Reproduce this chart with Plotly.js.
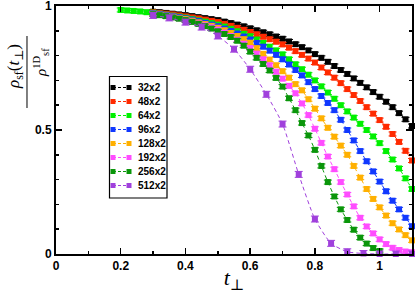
<!DOCTYPE html>
<html><head><meta charset="utf-8">
<script src="https://cdn.plot.ly/plotly-3.0.1.min.js"></script>
<style>html,body{margin:0;padding:0;background:#fff}#chart{width:415px;height:293px}</style>
</head><body><div id="chart"></div>
<script>
// t_perp grids
const tA = [0.30,0.32,0.34,0.36,0.38,0.40,0.42,0.44,0.46,0.48,0.50,0.52,0.54,0.56,0.58,0.60,0.62,0.64,0.66,0.68,0.70,0.72,0.74,0.76,0.78,0.80,0.82,0.84,0.86,0.88,0.90,0.92,0.94,0.96,0.98,1.00,1.02,1.04,1.06,1.08,1.10];
const tG = [0.20,0.22,0.24,0.26,0.28,0.30,0.32,0.34,0.36,0.38,0.40,0.42,0.44,0.46,0.48,0.50,0.52,0.54,0.56,0.58,0.60,0.62,0.64,0.66,0.68,0.70,0.72,0.74,0.76,0.78,0.80,0.82,0.84,0.86,0.88,0.90,0.92,0.94,0.96,0.98,1.00,1.02,1.04,1.06,1.08,1.10];
const tD = [0.30,0.32,0.34,0.36,0.38,0.40,0.42,0.44,0.46,0.48,0.50,0.52,0.54,0.56,0.58,0.60,0.62,0.64,0.66,0.68,0.70,0.72,0.74,0.76,0.78,0.80,0.82,0.84,0.86,0.88,0.90,0.92,0.94,0.96,0.98,1.00];
const tP = [0.30,0.35,0.40,0.45,0.50,0.55,0.60,0.65,0.70,0.75,0.80,0.85,0.90,0.95,1.00,1.05,1.10];

// rho_sf(t_perp)/rho_sf^1D
const r32 = [.977,.975,.972,.969,.966,.963,.959,.955,.951,.947,.943,.937,.931,.925,.918,.910,.902,.894,.886,.877,.868,.857,.846,.834,.821,.806,.791,.775,.758,.742,.726,.708,.690,.672,.653,.634,.614,.592,.568,.543,.516];
const r48 = [.975,.972,.969,.966,.962,.958,.954,.950,.945,.940,.935,.928,.920,.912,.904,.895,.886,.876,.866,.856,.845,.832,.818,.803,.788,.772,.752,.732,.711,.689,.665,.641,.617,.592,.566,.540,.513,.484,.452,.416,.377];
const r64 = [.984,.982,.980,.978,.975,.973,.969,.965,.961,.957,.953,.948,.942,.937,.931,.925,.917,.908,.898,.888,.878,.865,.851,.836,.821,.805,.785,.765,.745,.723,.700,.676,.651,.626,.600,.575,.550,.525,.500,.474,.447,.415,.381,.345,.305,.262];
const r96 = [.971,.968,.964,.960,.955,.950,.945,.939,.932,.925,.918,.909,.899,.889,.877,.865,.851,.836,.820,.803,.785,.764,.742,.720,.693,.665,.637,.609,.580,.541,.500,.458,.415,.374,.333,.292,.253,.215,.180,.146,.112];
const r128 = [.969,.965,.961,.957,.952,.947,.941,.934,.927,.920,.912,.902,.891,.879,.866,.852,.830,.807,.784,.761,.737,.711,.685,.660,.624,.586,.547,.509,.473,.437,.400,.355,.308,.262,.222,.188,.155,.124,.099,.076,.055];
const r192 = [.968,.964,.960,.955,.950,.944,.937,.930,.922,.914,.905,.893,.879,.864,.848,.830,.808,.785,.761,.735,.707,.678,.648,.607,.560,.505,.448,.393,.342,.290,.240,.192,.146,.111,.083,.059,.040,.025,.016,.010,.007];
const r256 = [.967,.963,.959,.954,.949,.943,.936,.928,.919,.909,.898,.887,.875,.860,.840,.816,.791,.766,.740,.710,.675,.628,.580,.528,.478,.420,.355,.290,.232,.180,.137,.098,.066,.042,.024,.012];
const r512 = [.962,.952,.935,.915,.879,.826,.745,.644,.524,.321,.141,.043,.009,.002,0,0,0];

const labels = ['32x2','48x2','64x2','96x2','128x2','192x2','256x2','512x2'];
const xTicks = [0,0.2,0.4,0.6,0.8,1];
const xTickText = ['0','0.2','0.4','0.6','0.8','1'];
const yTicks = [0,0.5,1];
const yTickText = ['0','0.5','1'];

const xs = [tA,tA,tG,tA,tA,tA,tD,tP];
const ys = [r32,r48,r64,r96,r128,r192,r256,r512];
const colors = ['#000000','#ff2a00','#00f000','#1038ff','#ffb000','#ff4cff','#0a960a','#a040dc'];

const traces = labels.map((n,i)=>({
  x: xs[i], y: ys[i], name: n, type:'scatter', mode:'lines+markers', showlegend:false,
  line:{color:colors[i], width:1, dash:'4px,3px', shape:'spline', smoothing:0.6},
  marker:{symbol:'square', size:6, color:colors[i]},
  error_y:{type:'constant', value: i===7?0.012:0.008, color:colors[i], thickness:1, width:4},
  cliponaxis:false
}));

// hand-built legend box (the native legend rows cannot be made as compact)
const px2x = p => (p-56)/356, px2y = p => (254-p)/248;
const shapes = [
  {type:'line', xref:'paper', yref:'paper', x0:-0.0815, x1:-0.0815, y0:px2y(108), y1:px2y(36), line:{color:'#000', width:1}},
  {type:'rect', xref:'paper', yref:'paper', x0:px2x(109.5), x1:px2x(167), y0:px2y(198), y1:px2y(76.5), line:{color:'#000', width:1.2}, fillcolor:'#fff', layer:'above'}
];
const annotations = [
  {xref:'paper', yref:'paper', x:px2x(15), y:px2y(67), xanchor:'center', yanchor:'middle', text:'<i>ρ</i><sub>sf</sub>(<i>t</i><sub>⊥</sub>)', showarrow:false, textangle:-90,
    font:{family:'Liberation Serif, DejaVu Serif, serif', size:17, color:'#000'}},
  {xref:'paper', yref:'paper', x:px2x(41), y:px2y(63), xanchor:'center', yanchor:'middle', text:'<i>ρ</i><sup>1D</sup><sub>sf</sub>', showarrow:false, textangle:-90,
    font:{family:'Liberation Serif, DejaVu Serif, serif', size:15, color:'#000'}}
];
labels.forEach((n,i)=>{
  const yc = 87.5 + 14*i;
  shapes.push({type:'line', xref:'paper', yref:'paper', x0:px2x(113), x1:px2x(129), y0:px2y(yc), y1:px2y(yc), line:{color:colors[i], width:1, dash:'3px,2px'}, layer:'above'});
  [113,129].forEach(cx=>shapes.push({type:'rect', xref:'paper', yref:'paper', x0:px2x(cx-2.5), x1:px2x(cx+2.5), y0:px2y(yc+2.5), y1:px2y(yc-2.5), line:{width:0}, fillcolor:colors[i], layer:'above'}));
  annotations.push({xref:'paper', yref:'paper', x:px2x(136), y:px2y(yc), xanchor:'left', yanchor:'middle', text:n, showarrow:false,
    font:{family:'Liberation Sans, Arial, sans-serif', size:10, weight:'bold', color:'#000'}});
});

const tickFont = {family:'Liberation Sans, Arial, sans-serif', size:12, weight:'bold', color:'#000'};
const layout = {
  width:415, height:293,
  margin:{l:56, r:3, t:6, b:39},
  paper_bgcolor:'#fff', plot_bgcolor:'#fff',
  showlegend:false,
  xaxis:{range:[0,1.1], tickmode:'array', tickvals:xTicks, ticktext:xTickText, ticks:'inside', ticklen:6, tickwidth:1.5, tickcolor:'#000',
    showline:true, linewidth:2, linecolor:'#000', mirror:'ticks', showgrid:false, zeroline:false, ticklabeloverflow:'allow',
    minor:{dtick:0.1, tick0:0, ticks:'inside', ticklen:3, tickwidth:1.5, tickcolor:'#000', showgrid:false},
    tickfont:tickFont,
    title:{text:'<i>t</i><sub>⊥</sub>', font:{family:'Liberation Serif, DejaVu Serif, serif', size:22, color:'#000'}, standoff:2}},
  yaxis:{range:[0,1], tickmode:'array', tickvals:yTicks, ticktext:yTickText, ticks:'inside', ticklen:6, tickwidth:1.5, tickcolor:'#000',
    showline:true, linewidth:2, linecolor:'#000', mirror:'ticks', showgrid:false, zeroline:false, ticklabeloverflow:'allow',
    minor:{dtick:0.1, tick0:0, ticks:'inside', ticklen:3, tickwidth:1.5, tickcolor:'#000', showgrid:false},
    tickfont:tickFont},
  annotations: annotations,
  shapes: shapes
};
Plotly.newPlot('chart', traces, layout, {displayModeBar:false, staticPlot:true});
</script></body></html>
